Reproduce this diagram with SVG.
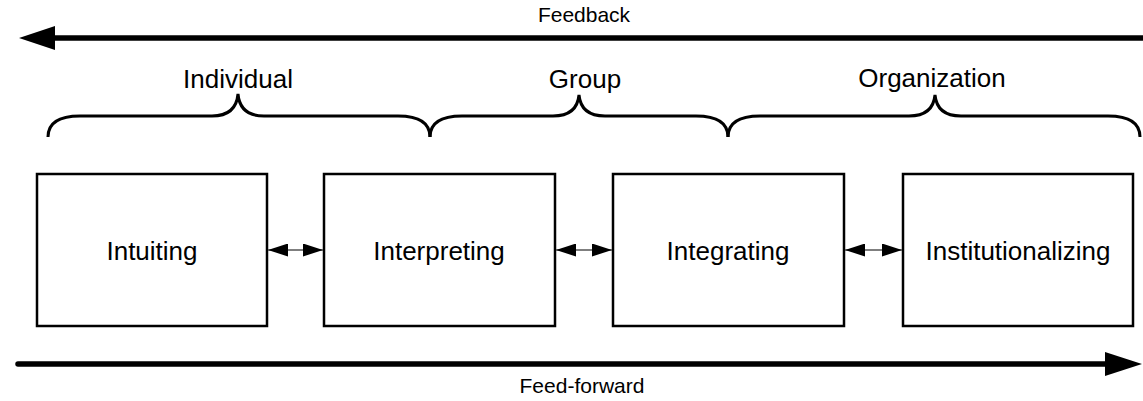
<svg xmlns="http://www.w3.org/2000/svg" width="1143" height="401" viewBox="0 0 1143 401">
<style>
text{font-family:"Liberation Sans",Arial,sans-serif;fill:#000;text-anchor:middle}
.lbl{font-size:26px}
.flow{font-size:21px}
.box{fill:#fff;stroke:#000;stroke-width:2.5}
.brace{fill:none;stroke:#000;stroke-width:3}
.thin{stroke:#555;stroke-width:1.5}
.thick{stroke:#000;stroke-width:5.5}
</style>
<defs>
<marker id="ah" viewBox="0 0 20 13" refX="20" refY="6.5" markerWidth="20" markerHeight="13" markerUnits="userSpaceOnUse" orient="auto-start-reverse">
<path d="M0,0 L20,6.5 L0,13 Z" fill="#000"/>
</marker>
</defs>
<g id="feedback">
<line class="thick" x1="54" y1="38" x2="1143" y2="38"/>
<path d="M19,38 L55,26 L55,50 Z" fill="#000"/>
<text class="flow" x="584" y="22">Feedback</text>
</g>
<g id="feedforward">
<line class="thick" x1="18" y1="364" x2="1106" y2="364" stroke-linecap="round"/>
<path d="M1142,364 L1105,352 L1105,376 Z" fill="#000"/>
<text class="flow" x="582" y="393">Feed-forward</text>
</g>
<g id="brace-individual">
<path class="brace" d="M48,137 Q48,116 80,116 H212 Q236,116 238,94 Q240,116 264,116 H398 Q430,116 430,137"/>
<text class="lbl" x="238" y="88">Individual</text>
</g>
<g id="brace-group">
<path class="brace" d="M430,137 Q430,116 462,116 H553 Q577,116 579,95 Q581,116 605,116 H696 Q728,116 728,137"/>
<text class="lbl" x="585" y="88">Group</text>
</g>
<g id="brace-organization">
<path class="brace" d="M728,137 Q728,116 760,116 H909 Q933,116 935,95 Q937,116 961,116 H1108 Q1140,116 1140,137"/>
<text class="lbl" x="932" y="87">Organization</text>
</g>
<g id="intuiting">
<rect class="box" x="37" y="174" width="230" height="152"/>
<text class="lbl" x="152" y="260">Intuiting</text>
</g>
<g id="interpreting">
<rect class="box" x="324" y="174" width="231" height="152"/>
<text class="lbl" x="439" y="260">Interpreting</text>
</g>
<g id="integrating">
<rect class="box" x="613" y="174" width="231" height="152"/>
<text class="lbl" x="728" y="260">Integrating</text>
</g>
<g id="institutionalizing">
<rect class="box" x="903" y="174" width="230" height="152"/>
<text class="lbl" x="1018" y="260">Institutionalizing</text>
</g>
<g id="connectors">
<line class="thin" x1="268" y1="250" x2="323" y2="250" marker-start="url(#ah)" marker-end="url(#ah)"/>
<line class="thin" x1="556" y1="250" x2="612" y2="250" marker-start="url(#ah)" marker-end="url(#ah)"/>
<line class="thin" x1="845" y1="250" x2="902" y2="250" marker-start="url(#ah)" marker-end="url(#ah)"/>
</g>
</svg>
